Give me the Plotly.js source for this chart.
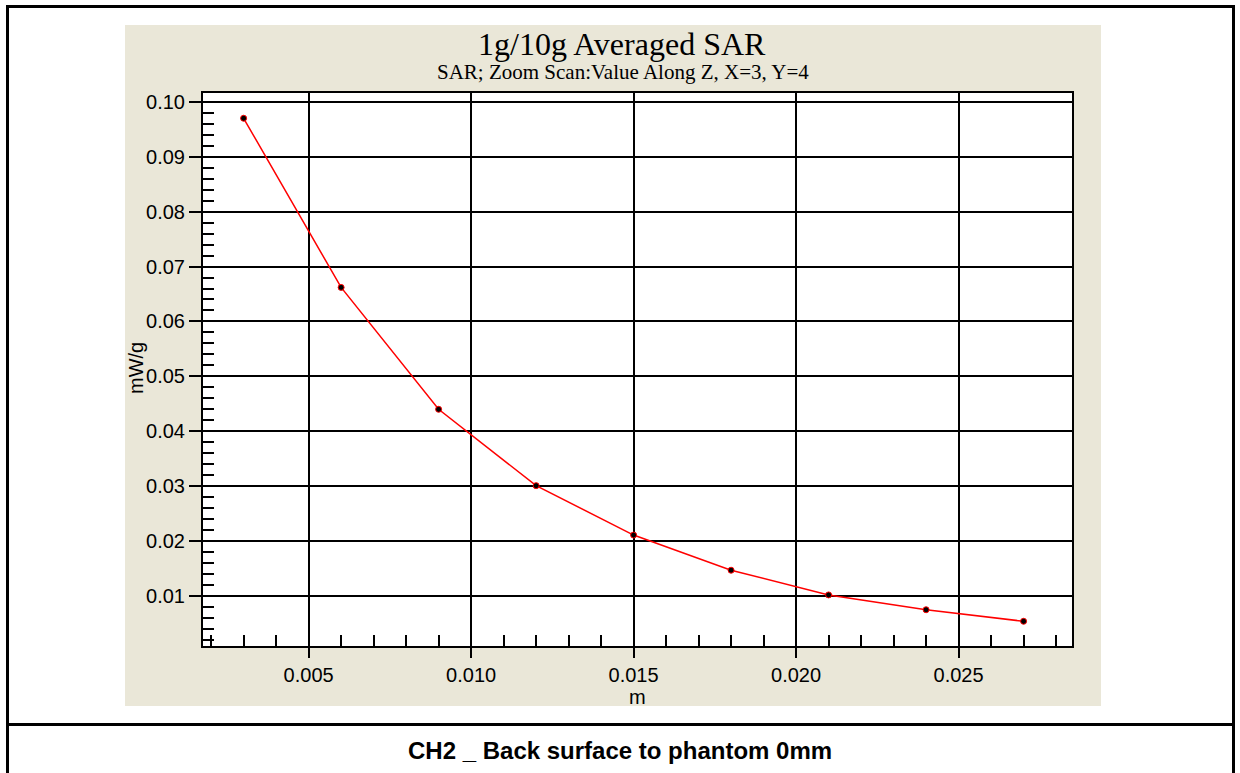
<!DOCTYPE html>
<html>
<head>
<meta charset="utf-8">
<script src="https://cdn.plot.ly/plotly-3.0.1.min.js"></script>
<style>
  html, body { margin: 0; padding: 0; background: #ffffff; }
  #wrap { position: relative; width: 1240px; height: 773px; overflow: hidden; }
  #frame { position: absolute; left: 6px; top: 5px; width: 1229px; height: 820px; border: 3px solid #000; box-sizing: border-box; }
  #divider { position: absolute; left: 6px; top: 723px; width: 1229px; height: 3px; background: #000; }
  #panel { position: absolute; left: 125px; top: 25px; width: 976px; height: 681px; background: #EAE7D8; }
  #chart { position: absolute; left: 0; top: 0; width: 1240px; height: 773px; }
</style>
</head>
<body>
<div id="wrap">
  <div id="frame"></div>
  <div id="divider"></div>
  <div id="panel"></div>
  <div id="chart"></div>
</div>
<script>
// Data
const depth_m = [0.003, 0.006, 0.009, 0.012, 0.015, 0.018, 0.021, 0.024, 0.027];
const sar_mWg = [0.0970, 0.0662, 0.0440, 0.0301, 0.0211, 0.0147, 0.0102, 0.0075, 0.0054];

const chartTitle = "1g/10g Averaged SAR";
const chartSubtitle = "SAR; Zoom Scan:Value Along Z, X=3, Y=4";
const xTitle = "m";
const yTitle = "mW/g";
const caption = "CH2 _ Back surface to phantom 0mm";

// plot area in pixels: x 203..1072, y 93..646
const L = 203, R = 1072, T = 93, B = 646;
const px = v => (v - L) / (R - L);
const py = v => (B - v) / (B - T);

const trace = {
  x: depth_m,
  y: sar_mWg,
  type: 'scatter',
  mode: 'lines+markers',
  line: { color: '#ff0000', width: 1.5 },
  marker: { color: '#000000', size: 6, line: { color: '#ff0000', width: 1 } },
  hoverinfo: 'x+y'
};

const tickFont = { family: 'Liberation Sans, Arial, sans-serif', size: 20, color: '#000' };

const layout = {
  width: 1240,
  height: 773,
  margin: { l: L, r: 1240 - R, t: T, b: 773 - B, pad: 0 },
  paper_bgcolor: 'rgba(0,0,0,0)',
  plot_bgcolor: '#ffffff',
  showlegend: false,
  xaxis: {
    range: [0.00175, 0.02849],
    tick0: 0, dtick: 0.005,
    tickformat: '.3f',
    ticks: 'outside', ticklen: 10, tickwidth: 2, tickcolor: '#000',
    showline: true, linecolor: '#000', linewidth: 2, mirror: true,
    showgrid: true, gridcolor: '#000', gridwidth: 1.5,
    zeroline: false,
    tickfont: tickFont,
    minor: { tick0: 0, dtick: 0.001, ticks: 'inside', ticklen: 11, tickwidth: 1.5, tickcolor: '#000', showgrid: false }
  },
  yaxis: {
    range: [0.0009, 0.1016],
    tick0: 0, dtick: 0.01,
    tickformat: '.2f',
    ticks: 'outside', ticklen: 12, tickwidth: 2, tickcolor: '#000',
    showline: true, linecolor: '#000', linewidth: 2, mirror: true,
    showgrid: true, gridcolor: '#000', gridwidth: 1.5,
    zeroline: false,
    tickfont: tickFont,
    minor: { tick0: 0, dtick: 0.002, ticks: 'inside', ticklen: 11, tickwidth: 1.5, tickcolor: '#000', showgrid: false }
  },
  annotations: [
    { text: chartTitle, xref: 'paper', yref: 'paper', x: px(622), y: py(44), xanchor: 'center', yanchor: 'middle', showarrow: false,
      font: { family: 'Liberation Serif, Times New Roman, serif', size: 32, color: '#000' } },
    { text: chartSubtitle, xref: 'paper', yref: 'paper', x: px(623), y: py(72), xanchor: 'center', yanchor: 'middle', showarrow: false,
      font: { family: 'Liberation Serif, Times New Roman, serif', size: 21, color: '#000' } },
    { text: xTitle, xref: 'paper', yref: 'paper', x: px(637), y: py(697), xanchor: 'center', yanchor: 'middle', showarrow: false,
      font: { family: 'Liberation Sans, Arial, sans-serif', size: 20, color: '#000' } },
    { text: yTitle, xref: 'paper', yref: 'paper', x: px(136), y: py(368), xanchor: 'center', yanchor: 'middle', showarrow: false, textangle: -90,
      font: { family: 'Liberation Sans, Arial, sans-serif', size: 20, color: '#000' } },
    { text: '<b>' + caption + '</b>', xref: 'paper', yref: 'paper', x: px(620), y: py(750), xanchor: 'center', yanchor: 'middle', showarrow: false,
      font: { family: 'Liberation Sans, Arial, sans-serif', size: 24, color: '#000' } }
  ]
};

Plotly.newPlot('chart', [trace], layout, { displayModeBar: false });
</script>
</body>
</html>
